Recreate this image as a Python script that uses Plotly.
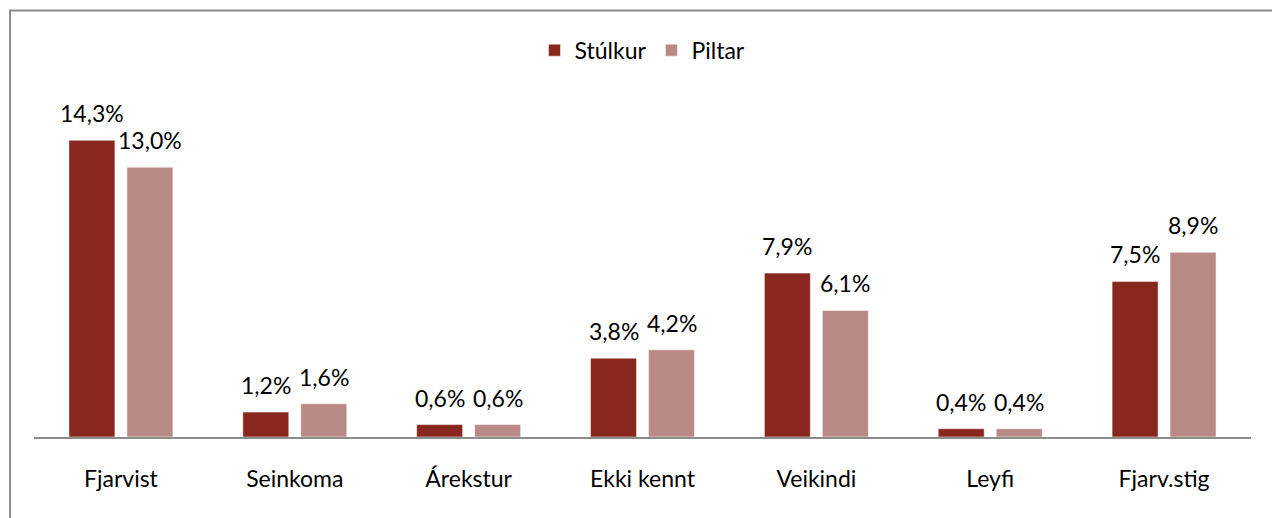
import plotly.graph_objects as go

categories = ["Fjarvist", "Seinkoma", "Árekstur", "Ekki kennt", "Veikindi", "Leyfi", "Fjarv.stig"]
stulkur = [14.3, 1.2, 0.6, 3.8, 7.9, 0.4, 7.5]
piltar = [13.0, 1.6, 0.6, 4.2, 6.1, 0.4, 8.9]
series_names = ["Stúlkur", "Piltar"]
colors = ["#88271E", "#B98986"]

FONT = "Lato"
FS = 23

def fmt(v):
    return f"{v:.1f}".replace(".", ",") + "%"

fig = go.Figure()
for name, vals, col in zip(series_names, [stulkur, piltar], colors):
    fig.add_trace(go.Bar(
        name=name, x=categories, y=vals,
        marker=dict(color=col, line=dict(color="rgba(255,255,255,0.5)", width=1)),
    ))

# value labels above bars
for vals, shift in [(stulkur, -29), (piltar, 29)]:
    for c, v in zip(categories, vals):
        fig.add_annotation(x=c, y=v, text=fmt(v), showarrow=False,
                           xshift=shift, yshift=11, yanchor="bottom",
                           font=dict(family=FONT, size=FS, color="#000000"))

# outer border
fig.add_shape(type="rect", xref="paper", yref="paper",
              x0=-0.0197, x1=1.1, y0=-0.4, y1=1.285,
              line=dict(color="#8C8C8C", width=2), fillcolor="rgba(0,0,0,0)")

fig.update_layout(
    width=1280, height=518,
    margin=dict(l=26, r=37, t=97, b=89),
    paper_bgcolor="white", plot_bgcolor="white",
    barmode="group", bargap=0.333, bargroupgap=0.207,
    font=dict(family=FONT, size=FS, color="#000000"),
    showlegend=True,
    legend=dict(orientation="h", x=0.5, xanchor="center", y=1.165, yanchor="middle",
                font=dict(family=FONT, size=FS), itemwidth=30, traceorder="normal"),
    xaxis=dict(showline=True, linecolor="#8C8C8C", linewidth=2, showgrid=False,
               ticks="", ticklabelstandoff=20, tickfont=dict(family=FONT, size=FS),
               zeroline=False),
    yaxis=dict(range=[0, 16], visible=False, showgrid=False, zeroline=False),
)

fig.write_html("out.html")
